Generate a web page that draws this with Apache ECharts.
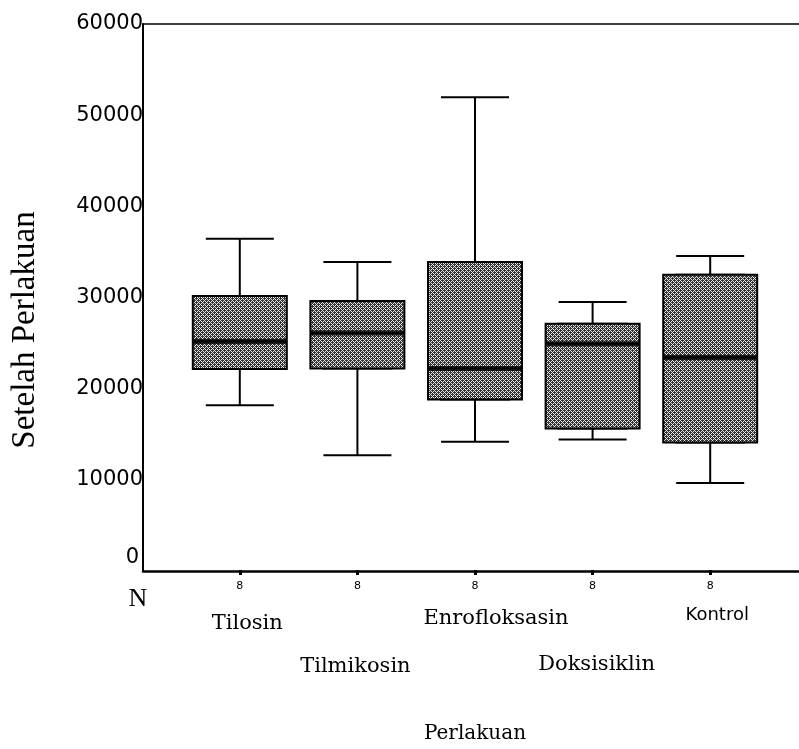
<!DOCTYPE html>
<html>
<head>
<meta charset="utf-8">
<script src="https://cdn.jsdelivr.net/npm/echarts@6/dist/echarts.min.js"></script>
<style>html,body{margin:0;padding:0;background:#fff;}#chart{width:799px;height:749px;}</style>
</head>
<body>
<div id="chart"></div>
<script>
// ---- data ----
const categories = ['Tilosin', 'Tilmikosin', 'Enrofloksasin', 'Doksisiklin', 'Kontrol'];
const nCounts = [8, 8, 8, 8, 8];
const minVals = [18100, 12600, 14100, 14350, 9550];
const q1Vals  = [22100, 22150, 18750, 15550, 14000];
const medVals = [25100, 26050, 22150, 24850, 23350];
const q3Vals  = [30100, 29550, 33850, 27050, 32450];
const maxVals = [36400, 33850, 51950, 29450, 34500];
const yMin = 0, yMax = 60000, yStep = 10000;
const yTitle = 'Setelah Perlakuan';
const xTitle = 'Perlakuan';
const nLabel = 'N';

// ---- styles ----
const row1 = [0, 2, 4];
const row2 = [1, 3];
const labelStyles = {
  0: {fontFamily: 'DejaVu Serif', fontSize: 21, lineHeight: 26, padding: [11, 0, 0, 15]},
  2: {fontFamily: 'DejaVu Serif', fontSize: 21, lineHeight: 26, padding: [2, 0, 0, 42]},
  4: {fontFamily: 'DejaVu Sans', fontSize: 18, lineHeight: 20, padding: [0, 0, 0, 14]},
  1: {fontFamily: 'DejaVu Serif', fontSize: 21, lineHeight: 26, padding: [4, 4, 0, 0]},
  3: {fontFamily: 'DejaVu Serif', fontSize: 21, lineHeight: 26, padding: [0, 0, 0, 8]}
};
const rich = {};
Object.keys(labelStyles).forEach(k => { rich['r' + k] = Object.assign({color: '#000'}, labelStyles[k]); });

// hatch pattern
const pc = document.createElement('canvas');
pc.width = 4; pc.height = 4;
const pctx = pc.getContext('2d');
for (let y = 0; y < 4; y++) {
  for (let x = 0; x < 4; x++) {
    const light = ((x + y) % 4 === 0) || ((x - y + 4) % 4 === 0);
    pctx.fillStyle = light ? '#e6e6e6' : '#333333';
    pctx.fillRect(x, y, 1, 1);
  }
}
const hatch = {image: pc, repeat: 'repeat'};

const whiskerData = categories.map((c, i) => [minVals[i], q1Vals[i], medVals[i], q3Vals[i], maxVals[i]]);
const boxData = categories.map((c, i) => [q1Vals[i], q1Vals[i], medVals[i], q3Vals[i], q3Vals[i]]);
const medData = categories.map((c, i) => [i, medVals[i]]);

const frameGrid = {left: 143, right: -10, top: 24, bottom: 178, show: false};
const dataGrid = {left: 181, right: 30, top: 24, bottom: 178, show: false};

const hidden = {show: false};
const chart = echarts.init(document.getElementById('chart'), null, {renderer: 'canvas'});
chart.setOption({
  animation: false,
  backgroundColor: '#fff',
  grid: [frameGrid, dataGrid],
  xAxis: [
    {gridIndex: 0, type: 'value', min: 0, max: 1, position: 'bottom',
     axisLine: {show: true, lineStyle: {color: '#000', width: 2.5}},
     axisTick: hidden, axisLabel: hidden, splitLine: hidden},
    {gridIndex: 0, type: 'value', min: 0, max: 1, position: 'top',
     axisLine: {show: true, lineStyle: {color: '#000', width: 1.5}},
     axisTick: hidden, axisLabel: hidden, splitLine: hidden},
    {gridIndex: 1, type: 'category', data: categories, position: 'bottom',
     axisLine: hidden,
     axisTick: {show: true, alignWithLabel: true, length: 5, lineStyle: {color: '#000', width: 3}},
     axisLabel: {show: true, margin: 11, color: '#000', fontFamily: 'DejaVu Sans', fontSize: 11,
                 formatter: (v, i) => String(nCounts[i])},
     splitLine: hidden},
    {gridIndex: 1, type: 'category', data: categories, position: 'bottom',
     axisLine: hidden, axisTick: hidden, splitLine: hidden,
     axisLabel: {show: true, margin: 35, interval: 0, rich: rich,
                 formatter: (v, i) => row1.indexOf(i) >= 0 ? '{r' + i + '|' + v + '}' : ''}},
    {gridIndex: 1, type: 'category', data: categories, position: 'bottom',
     axisLine: hidden, axisTick: hidden, splitLine: hidden,
     name: xTitle, nameLocation: 'middle', nameGap: 154,
     nameTextStyle: {color: '#000', fontFamily: 'DejaVu Serif', fontSize: 20},
     axisLabel: {show: true, margin: 82, interval: 0, rich: rich,
                 formatter: (v, i) => row2.indexOf(i) >= 0 ? '{r' + i + '|' + v + '}' : ''}}
  ],
  yAxis: [
    {gridIndex: 0, type: 'value', min: yMin, max: yMax, interval: yStep,
     axisLine: {show: true, lineStyle: {color: '#000', width: 2}},
     axisTick: hidden, splitLine: hidden,
     axisLabel: {show: true, margin: 0, color: '#000', fontFamily: 'DejaVu Sans', fontSize: 21,
                 formatter: v => v === 0 ? '{z|0}' : String(v),
                 rich: {z: {fontFamily: 'DejaVu Sans', fontSize: 21, color: '#000', padding: [0, 4, 26, 0]}}}},
    {gridIndex: 1, type: 'value', min: yMin, max: yMax, interval: yStep,
     axisLine: hidden, axisTick: hidden, axisLabel: hidden, splitLine: hidden}
  ],
  series: [
    {type: 'boxplot', xAxisIndex: 2, yAxisIndex: 1, data: whiskerData, z: 2,
     boxWidth: [68, 68],
     itemStyle: {color: hatch, borderColor: '#000', borderWidth: 2},
     emphasis: {disabled: true}},
    {type: 'boxplot', xAxisIndex: 3, yAxisIndex: 1, data: boxData, z: 3,
     boxWidth: [94, 94],
     itemStyle: {color: hatch, borderColor: '#000', borderWidth: 2},
     emphasis: {disabled: true}},
    {type: 'scatter', xAxisIndex: 2, yAxisIndex: 1, data: medData, z: 4,
     symbol: 'rect', symbolSize: [94, 5],
     itemStyle: {color: '#000'}, emphasis: {disabled: true}}
  ],
  graphic: [
    {type: 'text', x: 25, y: 330, rotation: Math.PI / 2,
     style: {text: yTitle, fill: '#000', font: '33px "Liberation Serif"', align: 'center', verticalAlign: 'middle'}},
    {type: 'text', x: 138, y: 599,
     style: {text: nLabel, fill: '#000', font: '26px "Liberation Serif"', align: 'center', verticalAlign: 'middle'}}
  ]
});
</script>
</body>
</html>
